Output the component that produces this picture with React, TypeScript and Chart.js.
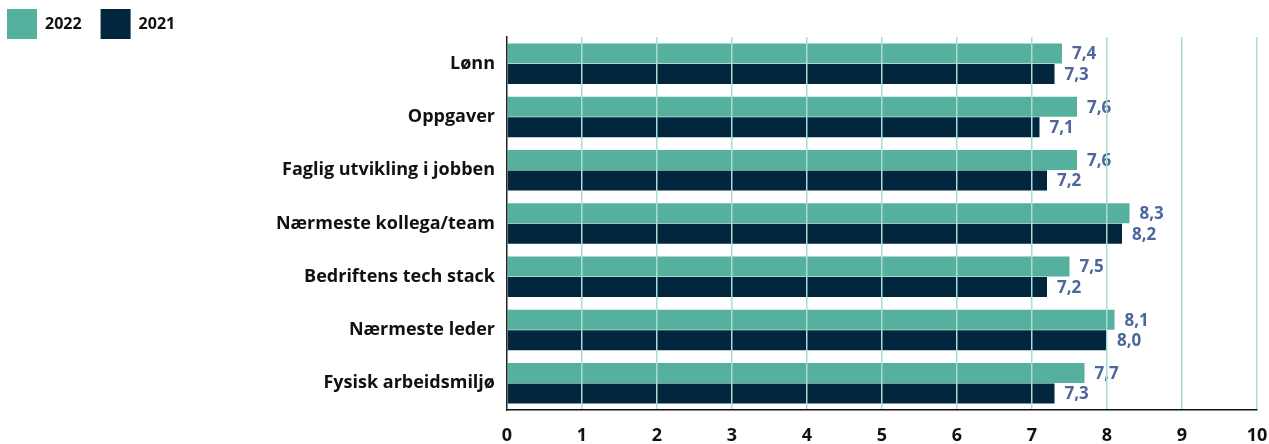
import React, { useEffect, useRef } from "react";
import { Chart, registerables } from "chart.js";

Chart.register(...registerables);

const categories = [
  "Lønn",
  "Oppgaver",
  "Faglig utvikling i jobben",
  "Nærmeste kollega/team",
  "Bedriftens tech stack",
  "Nærmeste leder",
  "Fysisk arbeidsmiljø",
];
const values2022 = [7.4, 7.6, 7.6, 8.3, 7.5, 8.1, 7.7];
const values2021 = [7.3, 7.1, 7.2, 8.2, 7.2, 8.0, 7.3];
const xTicks = [0, 1, 2, 3, 4, 5, 6, 7, 8, 9, 10];

const FONT = "'Open Sans', 'Noto Sans', sans-serif";

const valueLabels = {
  id: "valueLabels",
  afterDatasetsDraw(chart: any) {
    const ctx = chart.ctx;
    ctx.save();
    ctx.font = `bold 17px ${FONT}`;
    ctx.fillStyle = "#4b679c";
    ctx.textAlign = "left";
    ctx.textBaseline = "middle";
    chart.data.datasets.forEach((ds: any, di: number) => {
      const meta = chart.getDatasetMeta(di);
      meta.data.forEach((el: any, i: number) => {
        const v = ds.data[i] as number;
        const txt = v.toFixed(1).replace(".", ",");
        ctx.fillText(txt, el.x + 10, el.y + 1);
      });
    });
    ctx.restore();
  },
};

const topLegend = {
  id: "topLegend",
  afterDraw(chart: any) {
    const ctx = chart.ctx;
    ctx.save();
    ctx.font = `bold 16px ${FONT}`;
    ctx.textAlign = "left";
    ctx.textBaseline = "middle";
    let x = 7;
    const y = 9;
    const box = 30;
    chart.data.datasets.forEach((ds: any) => {
      ctx.fillStyle = ds.backgroundColor;
      ctx.fillRect(x, y, box, box);
      ctx.fillStyle = "#111111";
      const tx = x + box + 8;
      ctx.fillText(ds.label, tx, y + box / 2);
      x = tx + ctx.measureText(ds.label).width + 19;
    });
    ctx.restore();
  },
};

export default function App() {
  const ref = useRef<HTMLCanvasElement>(null);
  useEffect(() => {
    if (!ref.current) return;
    const chart = new Chart(ref.current, {
      type: "bar",
      data: {
        labels: categories,
        datasets: [
          {
            label: "2022",
            data: values2022,
            backgroundColor: "#55b09e",
            categoryPercentage: 0.77,
            barPercentage: 0.975,
          },
          {
            label: "2021",
            data: values2021,
            backgroundColor: "#03263f",
            categoryPercentage: 0.77,
            barPercentage: 0.975,
          },
        ],
      },
      options: {
        indexAxis: "y",
        animation: false,
        responsive: true,
        maintainAspectRatio: false,
        layout: { padding: { left: 0, right: 0, top: 37, bottom: 0 } },
        plugins: {
          tooltip: { enabled: false },
          legend: { display: false },
        },
        scales: {
          x: {
            min: 0,
            max: 10,
            afterBuildTicks(scale: any) {
              scale.ticks = xTicks.map((v) => ({ value: v }));
            },
            afterFit(scale: any) {
              scale.height = 34;
              scale.paddingRight = 12;
            },
            grid: {
              color: (c: any) => (c.tick && c.tick.value === 0 ? "rgba(0,0,0,0)" : "#a8ddd4"),
              lineWidth: 1.5,
              drawTicks: false,
              z: 1,
            },
            border: { display: true, color: "#111111", width: 1.5, z: 2 },
            ticks: {
              padding: 15,
              color: "#111111",
              font: { family: FONT, size: 18, weight: "bold" },
            },
          },
          y: {
            afterFit(scale: any) {
              scale.width = 507;
            },
            grid: { display: false, drawTicks: false },
            border: { display: true, color: "#222222", width: 1.5, z: 2 },
            ticks: {
              padding: 12,
              color: "#111111",
              font: { family: FONT, size: 18, weight: "bold" },
            },
          },
        },
      },
      plugins: [valueLabels, topLegend],
    } as any);
    return () => chart.destroy();
  }, []);
  return (
    <div style={{ position: "absolute", left: 0, top: 0, width: 1269, height: 444 }}>
      <canvas ref={ref} />
    </div>
  );
}
